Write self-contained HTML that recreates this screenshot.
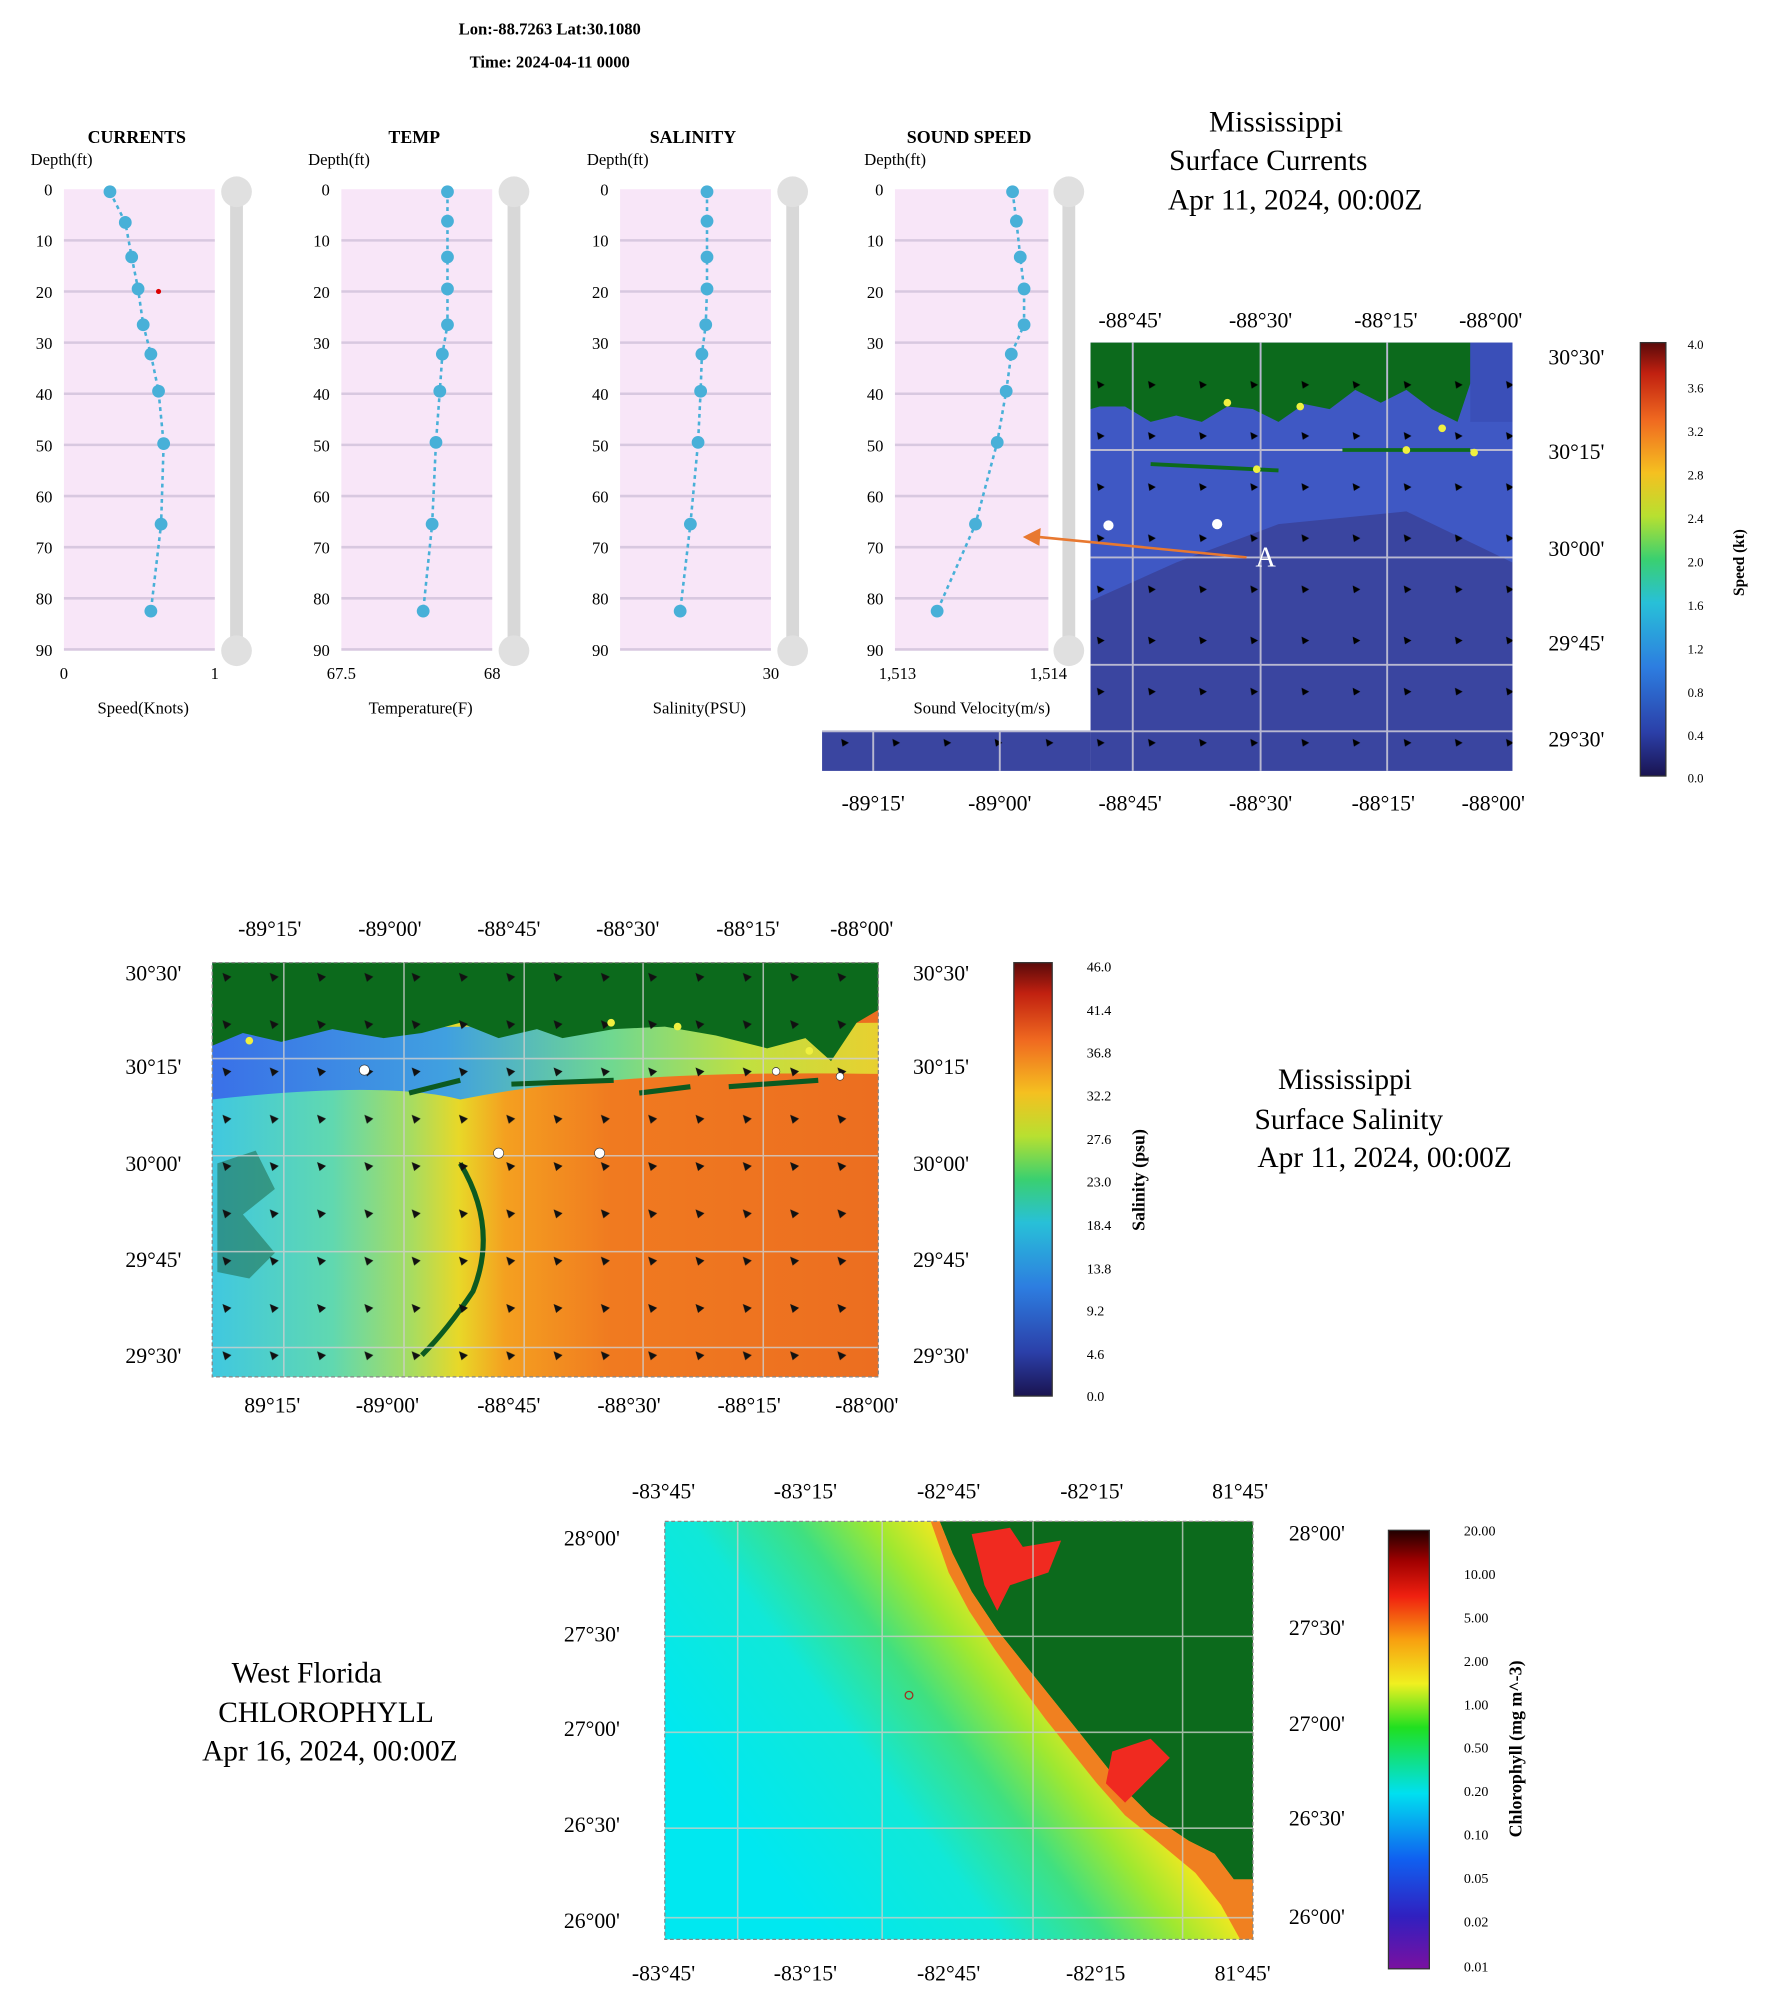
<!DOCTYPE html>
<html><head><meta charset="utf-8"><style>
html,body{margin:0;padding:0;background:#fff;}
svg{display:block;}
text{font-family:"Liberation Serif",serif;}
</style></head><body>
<svg width="1772" height="2011" viewBox="0 0 1386 1573" preserveAspectRatio="none" xmlns="http://www.w3.org/2000/svg">
<defs>
<pattern id="arr" x="0" y="0" width="40" height="40" patternUnits="userSpaceOnUse">
<path d="M18 18 l6 3 l-5 3 z" fill="#000"/>
</pattern>
<pattern id="arr2" x="10" y="5" width="37" height="37" patternUnits="userSpaceOnUse">
<path d="M16 16 l7 3 l-5 4 z" fill="#111"/>
</pattern>
<linearGradient id="spd" x1="0" y1="1" x2="0" y2="0">
<stop offset="0" stop-color="#1a1450"/><stop offset="0.1" stop-color="#2b3fa8"/><stop offset="0.25" stop-color="#2d7de0"/><stop offset="0.4" stop-color="#28c0d8"/><stop offset="0.5" stop-color="#3ad070"/><stop offset="0.6" stop-color="#b8e030"/><stop offset="0.7" stop-color="#f5c020"/><stop offset="0.82" stop-color="#f06a20"/><stop offset="0.93" stop-color="#c02010"/><stop offset="1" stop-color="#5a0a0a"/>
</linearGradient>
<linearGradient id="chl" x1="0" y1="1" x2="0" y2="0">
<stop offset="0" stop-color="#7a10a0"/><stop offset="0.12" stop-color="#3020c0"/><stop offset="0.25" stop-color="#1060f0"/><stop offset="0.4" stop-color="#00e0f0"/><stop offset="0.55" stop-color="#20e020"/><stop offset="0.65" stop-color="#f0f020"/><stop offset="0.75" stop-color="#f8a010"/><stop offset="0.85" stop-color="#f02010"/><stop offset="0.93" stop-color="#a00000"/><stop offset="1" stop-color="#200000"/>
</linearGradient>
<linearGradient id="sal" x1="0" y1="0" x2="1" y2="0">
<stop offset="0" stop-color="#40c8e0"/><stop offset="0.18" stop-color="#60d8b0"/><stop offset="0.3" stop-color="#a8dc60"/><stop offset="0.37" stop-color="#e8d828"/><stop offset="0.44" stop-color="#f4a020"/><stop offset="0.6" stop-color="#f07a20"/><stop offset="1" stop-color="#ec6e20"/>
</linearGradient>
<linearGradient id="coast" x1="0" y1="0" x2="1" y2="0">
<stop offset="0" stop-color="#3a70e8"/><stop offset="0.35" stop-color="#40a0e0"/><stop offset="0.6" stop-color="#70d890"/><stop offset="0.8" stop-color="#c0e040"/><stop offset="1" stop-color="#e8d030"/>
</linearGradient>
<linearGradient id="flo" gradientUnits="userSpaceOnUse" x1="600" y1="1460" x2="860" y2="1265">
<stop offset="0" stop-color="#00e8f0"/><stop offset="0.35" stop-color="#10e8d8"/><stop offset="0.55" stop-color="#40e080"/><stop offset="0.7" stop-color="#a0e830"/><stop offset="0.82" stop-color="#f0e820"/><stop offset="0.92" stop-color="#f8b020"/><stop offset="1" stop-color="#f07020"/>
</linearGradient>
</defs>

<text x="430" y="27" text-anchor="middle" font-size="13" font-weight="bold">Lon:-88.7263 Lat:30.1080</text>
<text x="430" y="53" text-anchor="middle" font-size="13" font-weight="bold">Time: 2024-04-11 0000</text>

<g font-size="13">
<g>
<rect x="50" y="148" width="118" height="360" fill="#f8e6f8"/>
<g stroke="#d8c8e0" stroke-width="2"><line x1="50" y1="188" x2="168" y2="188"/><line x1="50" y1="228" x2="168" y2="228"/><line x1="50" y1="268" x2="168" y2="268"/><line x1="50" y1="308" x2="168" y2="308"/><line x1="50" y1="348" x2="168" y2="348"/><line x1="50" y1="388" x2="168" y2="388"/><line x1="50" y1="428" x2="168" y2="428"/><line x1="50" y1="468" x2="168" y2="468"/><line x1="50" y1="508" x2="168" y2="508"/></g>
<rect x="180" y="150" width="10" height="358" fill="#d8d8d8"/><circle cx="185" cy="150" r="12" fill="#e0e0e0"/><circle cx="185" cy="509" r="12" fill="#e0e0e0"/>
<text x="107" y="112" text-anchor="middle" font-weight="bold" font-size="14">CURRENTS</text>
<text x="24" y="129">Depth(ft)</text>
<polyline points="86,150 98,174 103,201 108,226 112,254 118,277 124,306 128,347 126,410 118,478" fill="none" stroke="#48b0d8" stroke-width="2" stroke-dasharray="3,3"/>
<g fill="#48b0d8"><circle cx="86" cy="150" r="5"/><circle cx="98" cy="174" r="5"/><circle cx="103" cy="201" r="5"/><circle cx="108" cy="226" r="5"/><circle cx="112" cy="254" r="5"/><circle cx="118" cy="277" r="5"/><circle cx="124" cy="306" r="5"/><circle cx="128" cy="347" r="5"/><circle cx="126" cy="410" r="5"/><circle cx="118" cy="478" r="5"/></g>
<circle cx="124" cy="228" r="2" fill="#d00"/>
<text x="50" y="531" text-anchor="middle">0</text><text x="168" y="531" text-anchor="middle">1</text>
<text x="112" y="558" text-anchor="middle">Speed(Knots)</text>
</g>
<g transform="translate(217,0)">
<rect x="50" y="148" width="118" height="360" fill="#f8e6f8"/>
<g stroke="#d8c8e0" stroke-width="2"><line x1="50" y1="188" x2="168" y2="188"/><line x1="50" y1="228" x2="168" y2="228"/><line x1="50" y1="268" x2="168" y2="268"/><line x1="50" y1="308" x2="168" y2="308"/><line x1="50" y1="348" x2="168" y2="348"/><line x1="50" y1="388" x2="168" y2="388"/><line x1="50" y1="428" x2="168" y2="428"/><line x1="50" y1="468" x2="168" y2="468"/><line x1="50" y1="508" x2="168" y2="508"/></g>
<rect x="180" y="150" width="10" height="358" fill="#d8d8d8"/><circle cx="185" cy="150" r="12" fill="#e0e0e0"/><circle cx="185" cy="509" r="12" fill="#e0e0e0"/>
<text x="107" y="112" text-anchor="middle" font-weight="bold" font-size="14">TEMP</text>
<text x="24" y="129">Depth(ft)</text>
<polyline points="133,150 133,173 133,201 133,226 133,254 129,277 127,306 124,346 121,410 114,478" fill="none" stroke="#48b0d8" stroke-width="2" stroke-dasharray="3,3"/>
<g fill="#48b0d8"><circle cx="133" cy="150" r="5"/><circle cx="133" cy="173" r="5"/><circle cx="133" cy="201" r="5"/><circle cx="133" cy="226" r="5"/><circle cx="133" cy="254" r="5"/><circle cx="129" cy="277" r="5"/><circle cx="127" cy="306" r="5"/><circle cx="124" cy="346" r="5"/><circle cx="121" cy="410" r="5"/><circle cx="114" cy="478" r="5"/></g>
<text x="50" y="531" text-anchor="middle">67.5</text><text x="168" y="531" text-anchor="middle">68</text>
<text x="112" y="558" text-anchor="middle">Temperature(F)</text>
</g>
<g transform="translate(435,0)">
<rect x="50" y="148" width="118" height="360" fill="#f8e6f8"/>
<g stroke="#d8c8e0" stroke-width="2"><line x1="50" y1="188" x2="168" y2="188"/><line x1="50" y1="228" x2="168" y2="228"/><line x1="50" y1="268" x2="168" y2="268"/><line x1="50" y1="308" x2="168" y2="308"/><line x1="50" y1="348" x2="168" y2="348"/><line x1="50" y1="388" x2="168" y2="388"/><line x1="50" y1="428" x2="168" y2="428"/><line x1="50" y1="468" x2="168" y2="468"/><line x1="50" y1="508" x2="168" y2="508"/></g>
<rect x="180" y="150" width="10" height="358" fill="#d8d8d8"/><circle cx="185" cy="150" r="12" fill="#e0e0e0"/><circle cx="185" cy="509" r="12" fill="#e0e0e0"/>
<text x="107" y="112" text-anchor="middle" font-weight="bold" font-size="14">SALINITY</text>
<text x="24" y="129">Depth(ft)</text>
<polyline points="118,150 118,173 118,201 118,226 117,254 114,277 113,306 111,346 105,410 97,478" fill="none" stroke="#48b0d8" stroke-width="2" stroke-dasharray="3,3"/>
<g fill="#48b0d8"><circle cx="118" cy="150" r="5"/><circle cx="118" cy="173" r="5"/><circle cx="118" cy="201" r="5"/><circle cx="118" cy="226" r="5"/><circle cx="117" cy="254" r="5"/><circle cx="114" cy="277" r="5"/><circle cx="113" cy="306" r="5"/><circle cx="111" cy="346" r="5"/><circle cx="105" cy="410" r="5"/><circle cx="97" cy="478" r="5"/></g>
<text x="168" y="531" text-anchor="middle">30</text>
<text x="112" y="558" text-anchor="middle">Salinity(PSU)</text>
</g>
<g text-anchor="end">
<text x="41" y="153">0</text><text x="41" y="193">10</text><text x="41" y="233">20</text><text x="41" y="273">30</text><text x="41" y="313">40</text><text x="41" y="353">50</text><text x="41" y="393">60</text><text x="41" y="433">70</text><text x="41" y="473">80</text><text x="41" y="513">90</text>
<text x="258" y="153">0</text><text x="258" y="193">10</text><text x="258" y="233">20</text><text x="258" y="273">30</text><text x="258" y="313">40</text><text x="258" y="353">50</text><text x="258" y="393">60</text><text x="258" y="433">70</text><text x="258" y="473">80</text><text x="258" y="513">90</text>
<text x="476" y="153">0</text><text x="476" y="193">10</text><text x="476" y="233">20</text><text x="476" y="273">30</text><text x="476" y="313">40</text><text x="476" y="353">50</text><text x="476" y="393">60</text><text x="476" y="433">70</text><text x="476" y="473">80</text><text x="476" y="513">90</text>
<text x="691" y="153">0</text><text x="691" y="193">10</text><text x="691" y="233">20</text><text x="691" y="273">30</text><text x="691" y="313">40</text><text x="691" y="353">50</text><text x="691" y="393">60</text><text x="691" y="433">70</text><text x="691" y="473">80</text><text x="691" y="513">90</text>
</g>
<g transform="translate(650,0)">
<rect x="50" y="148" width="120" height="360" fill="#f8e6f8"/>
<g stroke="#d8c8e0" stroke-width="2"><line x1="50" y1="188" x2="170" y2="188"/><line x1="50" y1="228" x2="170" y2="228"/><line x1="50" y1="268" x2="170" y2="268"/><line x1="50" y1="308" x2="170" y2="308"/><line x1="50" y1="348" x2="170" y2="348"/><line x1="50" y1="388" x2="170" y2="388"/><line x1="50" y1="428" x2="170" y2="428"/><line x1="50" y1="468" x2="170" y2="468"/><line x1="50" y1="508" x2="170" y2="508"/></g>
<rect x="181" y="150" width="10" height="358" fill="#d8d8d8"/><circle cx="186" cy="150" r="12" fill="#e0e0e0"/><circle cx="186" cy="509" r="12" fill="#e0e0e0"/>
<text x="108" y="112" text-anchor="middle" font-weight="bold" font-size="14">SOUND SPEED</text>
<text x="26" y="129">Depth(ft)</text>
<polyline points="142,150 145,173 148,201 151,226 151,254 141,277 137,306 130,346 113,410 83,478" fill="none" stroke="#48b0d8" stroke-width="2" stroke-dasharray="3,3"/>
<g fill="#48b0d8"><circle cx="142" cy="150" r="5"/><circle cx="145" cy="173" r="5"/><circle cx="148" cy="201" r="5"/><circle cx="151" cy="226" r="5"/><circle cx="151" cy="254" r="5"/><circle cx="141" cy="277" r="5"/><circle cx="137" cy="306" r="5"/><circle cx="130" cy="346" r="5"/><circle cx="113" cy="410" r="5"/><circle cx="83" cy="478" r="5"/></g>
<text x="52" y="531" text-anchor="middle">1,513</text><text x="170" y="531" text-anchor="middle">1,514</text>
<text x="118" y="558" text-anchor="middle">Sound Velocity(m/s)</text>
</g>
</g>

<!-- Map 1 -->
<text x="998" y="103" text-anchor="middle" font-size="23">Mississippi</text>
<text x="992" y="133" text-anchor="middle" font-size="23">Surface Currents</text>
<text x="1013" y="164" text-anchor="middle" font-size="23">Apr 11, 2024,  00:00Z</text>
<rect x="853" y="268" width="330" height="335" fill="#3a45a0"/>
<rect x="643" y="572" width="210" height="31" fill="#3a45a0"/>
<path d="M853 310 L1150 300 L1183 330 V440 L1100 400 L1000 410 L920 440 L853 470 Z" fill="#3f58c4"/>
<path d="M853 268 H1150 V300 L1140 330 L1120 320 L1100 305 L1080 315 L1060 305 L1040 320 L1020 316 L1000 330 L980 320 L960 318 L940 330 L920 325 L900 330 L880 318 L860 318 L853 320 Z" fill="#0c6a1c"/>
<path d="M1150 268 H1183 V330 H1150 Z" fill="#3a4fb8"/>
<rect x="853" y="268" width="330" height="335" fill="url(#arr)"/>
<rect x="643" y="572" width="210" height="31" fill="url(#arr)"/>
<g stroke="#b8b8d0" stroke-width="1.5"><line x1="886" y1="268" x2="886" y2="603"/><line x1="986" y1="268" x2="986" y2="603"/><line x1="1085" y1="268" x2="1085" y2="603"/><line x1="683" y1="572" x2="683" y2="603"/><line x1="782" y1="572" x2="782" y2="603"/><line x1="853" y1="352" x2="1183" y2="352"/><line x1="853" y1="436" x2="1183" y2="436"/><line x1="853" y1="520" x2="1183" y2="520"/><line x1="643" y1="572" x2="1183" y2="572"/></g>
<path d="M900 363 L1000 368 M1050 352 L1150 352" stroke="#0c6a1c" stroke-width="3"/>
<g fill="#f0f040"><circle cx="960" cy="315" r="3"/><circle cx="1017" cy="318" r="3"/><circle cx="1128" cy="335" r="3"/><circle cx="1100" cy="352" r="3"/><circle cx="1153" cy="354" r="3"/><circle cx="983" cy="367" r="3"/></g>
<g fill="#fff"><circle cx="867" cy="411" r="4"/><circle cx="952" cy="410" r="4"/></g>
<line x1="975" y1="436" x2="812" y2="420" stroke="#e87830" stroke-width="2"/><path d="M800 420 L814 413 L813 427 Z" fill="#e87830"/>
<text x="990" y="443" text-anchor="middle" font-size="22" fill="#fff">A</text>
<g font-size="17" text-anchor="middle">
<text x="884" y="256">-88°45'</text><text x="986" y="256">-88°30'</text><text x="1084" y="256">-88°15'</text><text x="1166" y="256">-88°00'</text>
<text x="683" y="634">-89°15'</text><text x="782" y="634">-89°00'</text><text x="884" y="634">-88°45'</text><text x="986" y="634">-88°30'</text><text x="1082" y="634">-88°15'</text><text x="1168" y="634">-88°00'</text>
<text x="1233" y="285">30°30'</text><text x="1233" y="359">30°15'</text><text x="1233" y="435">30°00'</text><text x="1233" y="509">29°45'</text><text x="1233" y="584">29°30'</text>
</g>
<rect x="1283" y="268" width="20" height="339" fill="url(#spd)" stroke="#333"/>
<g font-size="10" font-family="Liberation Sans,sans-serif">
<text x="1320" y="273">4.0</text><text x="1320" y="307">3.6</text><text x="1320" y="341">3.2</text><text x="1320" y="375">2.8</text><text x="1320" y="409">2.4</text><text x="1320" y="443">2.0</text><text x="1320" y="477">1.6</text><text x="1320" y="511">1.2</text><text x="1320" y="545">0.8</text><text x="1320" y="579">0.4</text><text x="1320" y="612">0.0</text>
<text transform="translate(1364,440) rotate(-90)" text-anchor="middle" font-size="12" font-weight="bold" font-family="Liberation Sans,sans-serif">Speed (kt)</text>
</g>

<!-- Map 2 -->
<rect x="166" y="753" width="521" height="324" fill="url(#sal)"/>
<path d="M166 805 L687 800 L687 840 Q560 838 480 845 Q420 848 360 860 Q300 845 166 860 Z" fill="url(#coast)"/>
<path d="M166 753 H687 V790 L670 800 L650 830 L630 812 L600 820 L560 810 L520 803 L480 805 L440 812 L420 805 L390 812 L360 800 L330 808 L300 812 L260 805 L220 815 L190 808 L166 818 Z" fill="#0c6a1c"/>
<path d="M170 910 L200 900 L215 930 L190 950 L215 980 L195 1000 L170 995 Z" fill="#1a6040" opacity="0.5"/>
<path d="M360 910 Q390 960 370 1010 Q350 1040 330 1060" stroke="#0c5a20" stroke-width="4" fill="none"/>
<path d="M320 855 L360 845 M400 848 L480 845 M500 855 L540 850 M570 850 L640 845" stroke="#0c5a20" stroke-width="4"/>
<rect x="166" y="753" width="521" height="324" fill="url(#arr2)"/>
<g stroke="#d0d0d0" stroke-width="1.2" opacity="0.8"><line x1="222" y1="753" x2="222" y2="1077"/><line x1="316" y1="753" x2="316" y2="1077"/><line x1="410" y1="753" x2="410" y2="1077"/><line x1="503" y1="753" x2="503" y2="1077"/><line x1="597" y1="753" x2="597" y2="1077"/><line x1="166" y1="828" x2="687" y2="828"/><line x1="166" y1="904" x2="687" y2="904"/><line x1="166" y1="979" x2="687" y2="979"/><line x1="166" y1="1054" x2="687" y2="1054"/></g>
<rect x="166" y="753" width="521" height="324" fill="none" stroke="#888" stroke-dasharray="3,2"/>
<g fill="#fff" stroke="#333" stroke-width="0.5"><circle cx="285" cy="837" r="4"/><circle cx="390" cy="902" r="4"/><circle cx="469" cy="902" r="4"/><circle cx="607" cy="838" r="3"/><circle cx="657" cy="842" r="3"/></g>
<g fill="#f0f040"><circle cx="195" cy="814" r="3"/><circle cx="478" cy="800" r="3"/><circle cx="530" cy="803" r="3"/><circle cx="633" cy="822" r="3"/></g>
<g font-size="17" text-anchor="middle">
<text x="211" y="732">-89°15'</text><text x="305" y="732">-89°00'</text><text x="398" y="732">-88°45'</text><text x="491" y="732">-88°30'</text><text x="585" y="732">-88°15'</text><text x="674" y="732">-88°00'</text>
<text x="213" y="1105">89°15'</text><text x="303" y="1105">-89°00'</text><text x="398" y="1105">-88°45'</text><text x="492" y="1105">-88°30'</text><text x="586" y="1105">-88°15'</text><text x="678" y="1105">-88°00'</text>
<text x="120" y="767">30°30'</text><text x="120" y="840">30°15'</text><text x="120" y="916">30°00'</text><text x="120" y="991">29°45'</text><text x="120" y="1066">29°30'</text>
<text x="736" y="767">30°30'</text><text x="736" y="840">30°15'</text><text x="736" y="916">30°00'</text><text x="736" y="991">29°45'</text><text x="736" y="1066">29°30'</text>
</g>
<rect x="793" y="753" width="30" height="339" fill="url(#spd)" stroke="#333"/>
<g font-size="11" font-family="Liberation Sans,sans-serif">
<text x="850" y="760">46.0</text><text x="850" y="794">41.4</text><text x="850" y="827">36.8</text><text x="850" y="861">32.2</text><text x="850" y="895">27.6</text><text x="850" y="928">23.0</text><text x="850" y="962">18.4</text><text x="850" y="996">13.8</text><text x="850" y="1029">9.2</text><text x="850" y="1063">4.6</text><text x="850" y="1096">0.0</text>
<text transform="translate(895,923) rotate(-90)" text-anchor="middle" font-size="14" font-weight="bold" font-family="Liberation Sans,sans-serif">Salinity (psu)</text>
</g>
<text x="1052" y="852" text-anchor="middle" font-size="23">Mississippi</text>
<text x="1055" y="883" text-anchor="middle" font-size="23">Surface Salinity</text>
<text x="1083" y="913" text-anchor="middle" font-size="23">Apr 11, 2024,  00:00Z</text>

<!-- Map 3 -->
<rect x="520" y="1190" width="460" height="327" fill="url(#flo)"/>
<path d="M735 1190 H980 V1470 L965 1470 L950 1450 L930 1440 L900 1420 L880 1400 L860 1375 L840 1350 L820 1325 L800 1300 L780 1275 L760 1245 L745 1215 Z" fill="#0c6a1c"/>
<path d="M735 1190 L745 1215 L760 1245 L780 1275 L800 1300 L820 1325 L840 1350 L860 1375 L880 1400 L900 1420 L930 1440 L950 1450 L965 1470 L980 1470 L980 1517 L970 1517 L955 1490 L935 1465 L905 1440 L880 1420 L858 1395 L838 1370 L818 1345 L798 1318 L778 1290 L758 1260 L742 1230 L728 1190 Z" fill="#f08020"/>
<path d="M760 1200 L790 1195 L800 1210 L830 1205 L820 1230 L790 1240 L780 1260 L770 1240 Z M870 1370 L900 1360 L915 1375 L895 1395 L880 1410 L865 1395 Z" fill="#f02a20"/>
<g stroke="#c8d0c8" stroke-width="1.2" opacity="0.8"><line x1="577" y1="1190" x2="577" y2="1517"/><line x1="690" y1="1190" x2="690" y2="1517"/><line x1="808" y1="1190" x2="808" y2="1517"/><line x1="925" y1="1190" x2="925" y2="1517"/><line x1="520" y1="1280" x2="980" y2="1280"/><line x1="520" y1="1355" x2="980" y2="1355"/><line x1="520" y1="1430" x2="980" y2="1430"/><line x1="520" y1="1500" x2="980" y2="1500"/></g>
<rect x="520" y="1190" width="460" height="327" fill="none" stroke="#888" stroke-dasharray="3,2"/>
<circle cx="711" cy="1326" r="3" fill="none" stroke="#a03020"/>
<g font-size="17" text-anchor="middle">
<text x="519" y="1172">-83°45'</text><text x="630" y="1172">-83°15'</text><text x="742" y="1172">-82°45'</text><text x="854" y="1172">-82°15'</text><text x="970" y="1172">81°45'</text>
<text x="519" y="1549">-83°45'</text><text x="630" y="1549">-83°15'</text><text x="742" y="1549">-82°45'</text><text x="857" y="1549">-82°15</text><text x="972" y="1549">81°45'</text>
<text x="463" y="1209">28°00'</text><text x="463" y="1284">27°30'</text><text x="463" y="1358">27°00'</text><text x="463" y="1433">26°30'</text><text x="463" y="1508">26°00'</text>
<text x="1030" y="1205">28°00'</text><text x="1030" y="1279">27°30'</text><text x="1030" y="1354">27°00'</text><text x="1030" y="1428">26°30'</text><text x="1030" y="1505">26°00'</text>
</g>
<rect x="1086" y="1197" width="32" height="343" fill="url(#chl)" stroke="#333"/>
<g font-size="11" font-family="Liberation Sans,sans-serif">
<text x="1145" y="1201">20.00</text><text x="1145" y="1235">10.00</text><text x="1145" y="1269">5.00</text><text x="1145" y="1303">2.00</text><text x="1145" y="1337">1.00</text><text x="1145" y="1371">0.50</text><text x="1145" y="1405">0.20</text><text x="1145" y="1439">0.10</text><text x="1145" y="1473">0.05</text><text x="1145" y="1507">0.02</text><text x="1145" y="1542">0.01</text>
<text transform="translate(1190,1368) rotate(-90)" text-anchor="middle" font-size="14" font-weight="bold" font-family="Liberation Sans,sans-serif">Chlorophyll (mg m^-3)</text>
</g>
<text x="240" y="1316" text-anchor="middle" font-size="23">West Florida</text>
<text x="255" y="1347" text-anchor="middle" font-size="23">CHLOROPHYLL</text>
<text x="258" y="1377" text-anchor="middle" font-size="23">Apr 16, 2024,  00:00Z</text>
</svg>
</body></html>
